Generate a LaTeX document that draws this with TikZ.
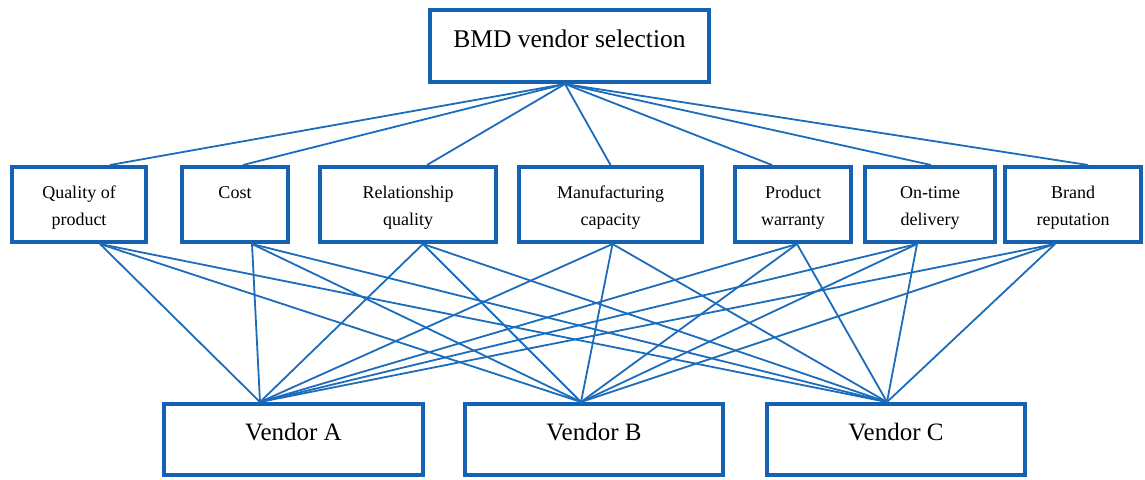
\documentclass[tikz,border=0pt]{standalone}
\usepackage{fontspec}
\setmainfont{Liberation Serif}
\usepackage{tikz}
\definecolor{boxblue}{RGB}{22,98,178}
\definecolor{lineblue}{RGB}{28,108,188}

\begin{document}
\begin{tikzpicture}[x=1pt,y=-1pt,
  box/.style={draw=boxblue,line width=4pt,fill=white,inner sep=0pt},
  crit/.style={box,minimum height=75},
  vend/.style={box,minimum height=71},
  txt/.style={anchor=north,inner sep=0pt,align=center},
  link/.style={draw=lineblue,line width=1.8pt}]
    \useasboundingbox (0,0) rectangle (1145,479);

    \node[box,minimum width=279,minimum height=72,
      label={[txt,yshift=-22,font=\fontsize{25.5}{30}\selectfont]north:BMD vendor selection}]
      (top) at (569.5,46) {};
    \coordinate (hub) at ([xshift=-4.5]top.south);

    \node[crit,minimum width=134,label={[txt,yshift=-21,font=\fontsize{18}{27}\selectfont]north:Quality of\\product}] (qual) at (79,204.5) {};
    \node[crit,minimum width=106,label={[txt,yshift=-21,font=\fontsize{18}{27}\selectfont]north:Cost}] (cost) at (235,204.5) {};
    \node[crit,minimum width=176,label={[txt,yshift=-21,font=\fontsize{18}{27}\selectfont]north:Relationship\\quality}] (rel) at (408,204.5) {};
    \node[crit,minimum width=183,label={[txt,yshift=-21,font=\fontsize{18}{27}\selectfont]north:Manufacturing\\capacity}] (manu) at (610.5,204.5) {};
    \node[crit,minimum width=116,label={[txt,yshift=-21,font=\fontsize{18}{27}\selectfont]north:Product\\warranty}] (warr) at (793,204.5) {};
    \node[crit,minimum width=130,label={[txt,yshift=-21,font=\fontsize{18}{27}\selectfont]north:On-time\\delivery}] (deliv) at (930,204.5) {};
    \node[crit,minimum width=136,label={[txt,yshift=-21,font=\fontsize{18}{27}\selectfont]north:Brand\\reputation}] (brand) at (1073,204.5) {};

    \node[vend,minimum width=259,label={[txt,yshift=-21,font=\fontsize{25}{30}\selectfont]north:Vendor A}] (va) at (293.5,439.5) {};
    \node[vend,minimum width=258,label={[txt,yshift=-21,font=\fontsize{25}{30}\selectfont]north:Vendor B}] (vb) at (594,439.5) {};
    \node[vend,minimum width=258,label={[txt,yshift=-21,font=\fontsize{25}{30}\selectfont]north:Vendor C}] (vc) at (896,439.5) {};

    \foreach \n/\up/\dn in {qual/31/21,cost/8/17,rel/19/15,manu/0/2,warr/-21/4,deliv/1/-13,brand/15/-18}{
      \draw[link] (hub) -- ([xshift=\up]\n.north);
      \foreach \v/\s in {va/-33.5,vb/-13,vc/-9}
        \draw[link] ([xshift=\dn]\n.south) -- ([xshift=\s]\v.north);
    }
\end{tikzpicture}
\end{document}
